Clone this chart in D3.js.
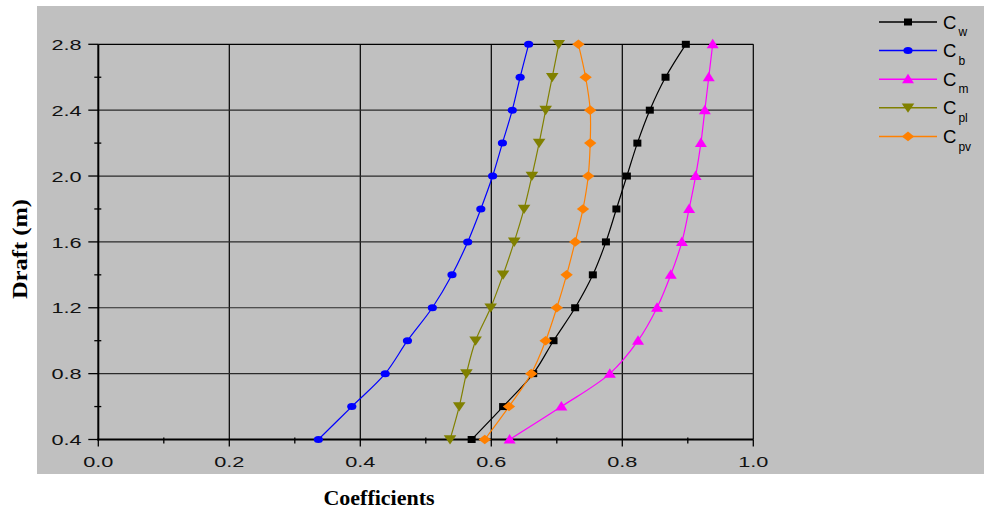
<!DOCTYPE html>
<html>
<head>
<meta charset="utf-8">
<script src="https://cdn.jsdelivr.net/npm/d3@7"></script>
<style>
  html, body { margin: 0; padding: 0; background: #ffffff; }
  svg { display: block; }
</style>
</head>
<body>
<svg id="chart" width="984" height="513"></svg>
<script>
// Draft levels (m) shared by every series
const draft = [0.4, 0.6, 0.8, 1.0, 1.2, 1.4, 1.6, 1.8, 2.0, 2.2, 2.4, 2.6, 2.8];

// Form coefficients at each draft
const cw  = [0.570, 0.618, 0.664, 0.695, 0.728, 0.755, 0.775, 0.791, 0.807, 0.823, 0.842, 0.866, 0.897];
const cb  = [0.336, 0.387, 0.438, 0.472, 0.510, 0.540, 0.564, 0.584, 0.602, 0.617, 0.632, 0.644, 0.657];
const cm  = [0.628, 0.707, 0.781, 0.824, 0.853, 0.874, 0.891, 0.902, 0.912, 0.920, 0.926, 0.932, 0.938];
const cpl = [0.537, 0.551, 0.562, 0.576, 0.599, 0.618, 0.635, 0.650, 0.662, 0.673, 0.683, 0.693, 0.703];
const cpv = [0.590, 0.627, 0.661, 0.683, 0.700, 0.715, 0.728, 0.740, 0.748, 0.751, 0.751, 0.744, 0.733];

// Series names (main letter + subscript)
const seriesNames = [["C", "w"], ["C", "b"], ["C", "m"], ["C", "pl"], ["C", "pv"]];

// Tick values
const xTicks = [0.0, 0.2, 0.4, 0.6, 0.8, 1.0];
const xMinorTicks = [0.1, 0.3, 0.5, 0.7, 0.9];
const yTicks = [0.4, 0.8, 1.2, 1.6, 2.0, 2.4, 2.8];
const yMinorTicks = [0.6, 1.0, 1.4, 1.8, 2.2, 2.6];

const svg = d3.select("#chart");

// grey frame of the figure
svg.append("rect")
  .attr("x", 37).attr("y", 6)
  .attr("width", 947).attr("height", 468)
  .attr("fill", "#c0c0c0");

const x = d3.scaleLinear().domain([0, 1]).range([98.3, 753.3]);
const y = d3.scaleLinear().domain([0.4, 2.8]).range([439.5, 44.3]);

const g = svg.append("g");

// grid lines
g.selectAll("line.vgrid").data(xTicks.filter(d => d > 0)).enter().append("line")
  .attr("x1", d => x(d)).attr("x2", d => x(d))
  .attr("y1", y(0.4)).attr("y2", y(2.8))
  .attr("stroke", "#000").attr("stroke-width", 1.2);
g.selectAll("line.hgrid").data(yTicks.filter(d => d > 0.4)).enter().append("line")
  .attr("x1", x(0)).attr("x2", x(1))
  .attr("y1", d => y(d)).attr("y2", d => y(d))
  .attr("stroke", d => d === 2.8 ? "#000" : "#2a2a2a").attr("stroke-width", 1.2);

// y axis: line, major ticks (outward), minor ticks (crossing)
g.append("line")
  .attr("x1", x(0)).attr("x2", x(0))
  .attr("y1", y(0.4) + 1).attr("y2", y(2.8))
  .attr("stroke", "#000").attr("stroke-width", 2);
g.selectAll("line.ymaj").data(yTicks).enter().append("line")
  .attr("x1", x(0) - 10).attr("x2", x(0))
  .attr("y1", d => y(d)).attr("y2", d => y(d))
  .attr("stroke", "#000").attr("stroke-width", 1.3);
g.selectAll("line.ymin").data(yMinorTicks).enter().append("line")
  .attr("x1", x(0) - 4).attr("x2", x(0) + 3)
  .attr("y1", d => y(d)).attr("y2", d => y(d))
  .attr("stroke", "#000").attr("stroke-width", 1.3);

// x axis: line, major ticks (outward), minor ticks (crossing)
g.append("line")
  .attr("x1", x(0) - 1).attr("x2", x(1))
  .attr("y1", y(0.4)).attr("y2", y(0.4))
  .attr("stroke", "#000").attr("stroke-width", 2);
g.selectAll("line.xmaj").data(xTicks).enter().append("line")
  .attr("x1", d => x(d)).attr("x2", d => x(d))
  .attr("y1", y(0.4)).attr("y2", y(0.4) + 7)
  .attr("stroke", "#000").attr("stroke-width", 1.3);
g.selectAll("line.xmin").data(xMinorTicks).enter().append("line")
  .attr("x1", d => x(d)).attr("x2", d => x(d))
  .attr("y1", y(0.4) - 2).attr("y2", y(0.4) + 4)
  .attr("stroke", "#000").attr("stroke-width", 1.3);

// tick labels (wide sans face)
const tickFont = "'Liberation Sans', Arial, sans-serif";
g.selectAll("text.ylab").data(yTicks).enter().append("text")
  .attr("transform", d => `translate(81.7,${y(d) + 5.6}) scale(1.45,1)`)
  .attr("text-anchor", "end")
  .attr("font-family", tickFont).attr("font-size", 15)
  .attr("fill", "#111")
  .text(d => d.toFixed(1));
g.selectAll("text.xlab").data(xTicks).enter().append("text")
  .attr("transform", d => `translate(${x(d)},467) scale(1.45,1)`)
  .attr("text-anchor", "middle")
  .attr("font-family", tickFont).attr("font-size", 15)
  .attr("fill", "#111")
  .text(d => d.toFixed(1));

// axis titles
svg.append("text")
  .attr("x", 379).attr("y", 505)
  .attr("text-anchor", "middle")
  .attr("font-family", "'Liberation Serif', 'Times New Roman', serif")
  .attr("font-weight", "bold").attr("font-size", 22)
  .text("Coefficients");
svg.append("text")
  .attr("transform", "translate(27,249) rotate(-90)")
  .attr("text-anchor", "middle")
  .attr("font-family", "'Liberation Serif', 'Times New Roman', serif")
  .attr("font-weight", "bold").attr("font-size", 22)
  .attr("textLength", 100).attr("lengthAdjust", "spacingAndGlyphs")
  .text("Draft (m)");

// marker shapes, drawn slightly wider than tall
const markerPath = {
  square:   "M-4,-3.5H4V3.5H-4Z",
  circle:   "M-4.6,0A4.6,3.5 0 1,0 4.6,0A4.6,3.5 0 1,0 -4.6,0Z",
  triUp:    "M0,-5.5L6,4L-6,4Z",
  triDown:  "M0,5L6.3,-4.3L-6.3,-4.3Z",
  diamond:  "M0,-4.8L6.2,0L0,4.8L-6.2,0Z"
};

const series = [
  { values: cw,  color: "#000000", marker: "square" },
  { values: cb,  color: "#0000ff", marker: "circle" },
  { values: cm,  color: "#ff00ff", marker: "triUp" },
  { values: cpl, color: "#808000", marker: "triDown" },
  { values: cpv, color: "#ff8000", marker: "diamond" }
];

const line = d3.line()
  .x(d => x(d[0]))
  .y(d => y(d[1]))
  .curve(d3.curveCatmullRom.alpha(0.5));

series.forEach(s => {
  const pts = s.values.map((v, i) => [v, draft[i]]);
  g.append("path")
    .attr("d", line(pts))
    .attr("fill", "none")
    .attr("stroke", s.color)
    .attr("stroke-width", 1.2);
});
series.forEach(s => {
  const pts = s.values.map((v, i) => [v, draft[i]]);
  g.selectAll(null).data(pts).enter().append("path")
    .attr("d", markerPath[s.marker])
    .attr("transform", d => `translate(${x(d[0])},${y(d[1])})`)
    .attr("fill", s.color);
});

// legend
const legend = svg.append("g");
series.forEach((s, i) => {
  const ly = 22 + i * 28.6;
  const row = legend.append("g");
  row.append("line")
    .attr("x1", 879).attr("x2", 937)
    .attr("y1", ly).attr("y2", ly)
    .attr("stroke", s.color).attr("stroke-width", 1.5);
  row.append("path")
    .attr("d", markerPath[s.marker])
    .attr("transform", `translate(908,${ly})`)
    .attr("fill", s.color);
  const t = row.append("text")
    .attr("x", 943).attr("y", ly + 6.6)
    .attr("font-family", tickFont)
    .attr("font-size", 18.5)
    .attr("fill", "#000");
  t.append("tspan").text(seriesNames[i][0]);
  t.append("tspan")
    .attr("dx", 2).attr("dy", 7.5)
    .attr("font-size", 12)
    .text(seriesNames[i][1]);
});
</script>
</body>
</html>
